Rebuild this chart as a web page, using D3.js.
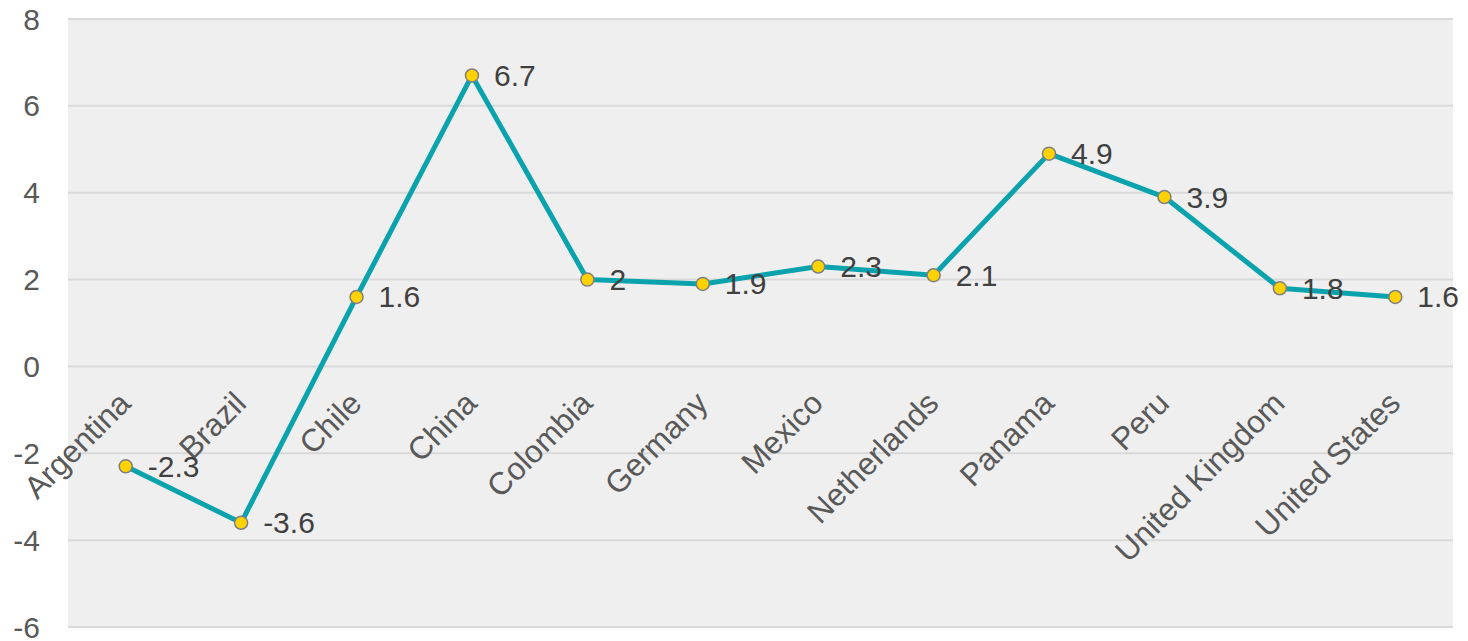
<!DOCTYPE html>
<html>
<head>
<meta charset="utf-8">
<script src="https://cdn.jsdelivr.net/npm/d3@7"></script>
<style>
  body { margin: 0; background: #fff; }
  text { font-family: "Liberation Sans", Arial, sans-serif; }
</style>
</head>
<body>
<svg id="chart" width="1468" height="641"></svg>
<script>
var countries = ["Argentina", "Brazil", "Chile", "China", "Colombia", "Germany", "Mexico",
    "Netherlands", "Panama", "Peru", "United Kingdom", "United States"];
var values = [-2.3, -3.6, 1.6, 6.7, 2, 1.9, 2.3, 2.1, 4.9, 3.9, 1.8, 1.6];
var yTicks = [-6, -4, -2, 0, 2, 4, 6, 8];

var margin = {left: 68, right: 15, top: 19, bottom: 14};
var width = 1468, height = 641;

var svg = d3.select("#chart");

var xScale = d3.scalePoint()
    .domain(countries)
    .range([margin.left, width - margin.right])
    .padding(0.5);
var yScale = d3.scaleLinear()
    .domain([-6, 8])
    .range([height - margin.bottom, margin.top]);

// plot background
svg.append("rect")
    .attr("x", margin.left)
    .attr("y", margin.top)
    .attr("width", width - margin.right - margin.left)
    .attr("height", height - margin.bottom - margin.top)
    .attr("fill", "#efefef");

// gridlines
svg.append("g")
    .selectAll("line")
    .data(yTicks)
    .enter()
    .append("line")
    .attr("x1", margin.left)
    .attr("x2", width - margin.right)
    .attr("y1", function (d) { return yScale(d); })
    .attr("y2", function (d) { return yScale(d); })
    .attr("stroke", "#d9d9d9")
    .attr("stroke-width", 2);

// y axis labels
svg.append("g")
    .selectAll("text")
    .data(yTicks)
    .enter()
    .append("text")
    .attr("x", 40)
    .attr("y", function (d) { return yScale(d); })
    .attr("dy", "0.35em")
    .attr("text-anchor", "end")
    .attr("font-size", 30)
    .attr("fill", "#595959")
    .text(function (d) { return d; });

// category labels, rotated, hanging from the zero line
var y0 = yScale(0);
svg.append("g")
    .selectAll("text")
    .data(countries)
    .enter()
    .append("text")
    .attr("transform", function (d) {
        return "translate(" + (xScale(d) - 1) + "," + (y0 + 31) + ") rotate(-45)";
    })
    .attr("dy", "0.35em")
    .attr("text-anchor", "end")
    .attr("font-size", 31.5)
    .attr("fill", "#595959")
    .text(function (d) { return d; });

var data = countries.map(function (c, i) { return {name: c, value: values[i]}; });

var line = d3.line()
    .x(function (d) { return xScale(d.name); })
    .y(function (d) { return yScale(d.value); });

svg.append("path")
    .datum(data)
    .attr("fill", "none")
    .attr("stroke", "#0aa3ad")
    .attr("stroke-width", 5)
    .attr("stroke-linejoin", "round")
    .attr("d", line);

svg.append("g")
    .selectAll("circle")
    .data(data)
    .enter()
    .append("circle")
    .attr("cx", function (d) { return xScale(d.name); })
    .attr("cy", function (d) { return yScale(d.value); })
    .attr("r", 6.5)
    .attr("fill", "#ffd200")
    .attr("stroke", "#7f7f7f")
    .attr("stroke-width", 1.5);

// value labels
svg.append("g")
    .selectAll("text")
    .data(data)
    .enter()
    .append("text")
    .attr("x", function (d) { return xScale(d.name) + 22; })
    .attr("y", function (d) { return yScale(d.value); })
    .attr("dy", "0.35em")
    .attr("font-size", 30)
    .attr("fill", "#404040")
    .text(function (d) { return d.value; });
</script>
</body>
</html>
